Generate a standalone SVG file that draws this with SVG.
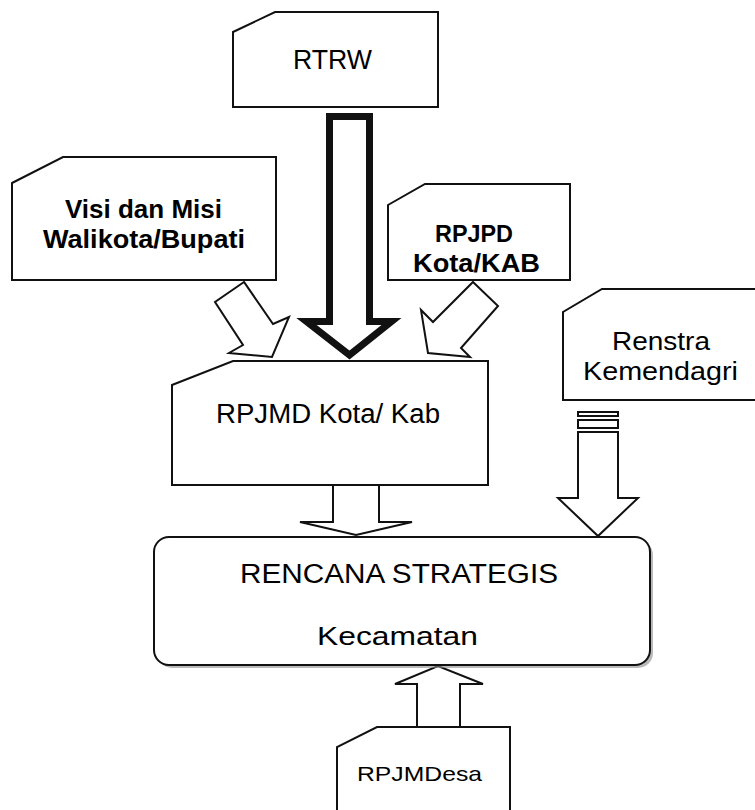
<svg xmlns="http://www.w3.org/2000/svg" width="755" height="810" viewBox="0 0 755 810">
<style>
.box{fill:#fff;stroke:#111;stroke-width:2;stroke-linejoin:miter}
.arr{fill:#fff;stroke:#111;stroke-width:2;stroke-linejoin:miter}
.thick{stroke-width:7}
.t{font-family:"Liberation Sans",Arial,sans-serif;fill:#000}
.b{font-weight:bold}
</style>
<rect width="755" height="810" fill="#fff"/>
<g id="connectors">
  <path class="arr thick" d="M329.5,116.5 H369.5 V321.5 H391.5 L349.5,355 L306.5,321.5 H329.5 Z"/>
  <polygon class="arr" points="244,282 215,302 243,345 229,353 272,357 289,317 273,324"/>
  <polygon class="arr" points="473,282 498,306 461,348 470,357 428,353 421,310 433,322"/>
  <polygon class="arr" points="333,485 379,485 379,522 412,522 356,535 300,522 333,522"/>
  <g>
    <rect class="arr" x="578" y="412" width="40" height="4"/>
    <rect class="arr" x="578" y="420" width="40" height="8"/>
    <polygon class="arr" points="578,432 618,432 618,498 638,498 598,536 558,498 578,498"/>
  </g>
  <polygon class="arr" points="417,727 460,727 460,684 483,684 438,666 395,684 417,684"/>
</g>
<g id="rtrw">
  <polygon class="box" points="233,32 275,12 438,12 438,107 233,107"/>
  <text class="t" x="293" y="69" font-size="27" textLength="79" lengthAdjust="spacingAndGlyphs">RTRW</text>
</g>
<g id="visi">
  <polygon class="box" points="12,183 63,157 276,157 276,280 12,280"/>
  <text class="t b" x="65" y="218" font-size="25" textLength="157" lengthAdjust="spacingAndGlyphs">Visi dan Misi</text>
  <text class="t b" x="43" y="248" font-size="25" textLength="202" lengthAdjust="spacingAndGlyphs">Walikota/Bupati</text>
</g>
<g id="rpjpd">
  <polygon class="box" points="388,205 425,184 570,184 570,280 388,280"/>
  <text class="t b" x="435" y="242" font-size="24" textLength="78" lengthAdjust="spacingAndGlyphs">RPJPD</text>
  <text class="t b" x="413" y="272" font-size="25" textLength="127" lengthAdjust="spacingAndGlyphs">Kota/KAB</text>
</g>
<g id="renstra">
  <path class="box" d="M758,400 H563 V312 L602,289 H758"/>
  <text class="t" x="612" y="350" font-size="26" textLength="98" lengthAdjust="spacingAndGlyphs">Renstra</text>
  <text class="t" x="583" y="380" font-size="26" textLength="155" lengthAdjust="spacingAndGlyphs">Kemendagri</text>
</g>
<g id="rpjmd">
  <polygon class="box" points="172,385 233,361 488,361 488,485 172,485"/>
  <text class="t" x="216" y="423" font-size="27" textLength="224" lengthAdjust="spacingAndGlyphs">RPJMD Kota/ Kab</text>
</g>
<g id="renstra-kecamatan">
  <rect x="157" y="540" width="496" height="128" rx="15" fill="#8a8a8a" opacity="0.6"/>
  <rect class="box" x="154" y="537" width="496" height="128" rx="15"/>
  <text class="t" x="240" y="583" font-size="27" textLength="318" lengthAdjust="spacingAndGlyphs">RENCANA STRATEGIS</text>
  <text class="t" x="317" y="645" font-size="26" textLength="161" lengthAdjust="spacingAndGlyphs">Kecamatan</text>
</g>
<g id="rpjmdesa">
  <path class="box" d="M337,812 V747 L377,727 H510 V812"/>
  <text class="t" x="357" y="781" font-size="21" textLength="125" lengthAdjust="spacingAndGlyphs">RPJMDesa</text>
</g>
</svg>
